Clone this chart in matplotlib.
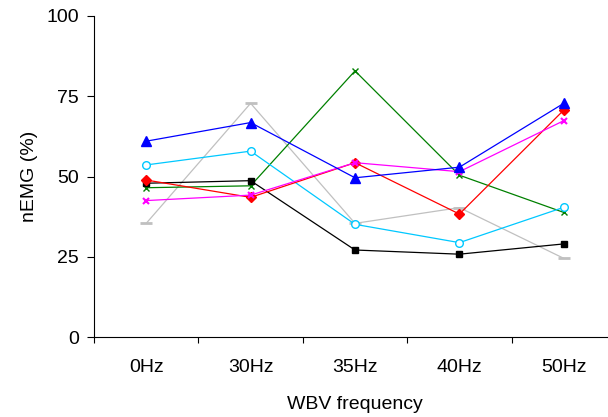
import matplotlib
matplotlib.use('Agg')
import matplotlib.pyplot as plt
import numpy as np

plt.rcParams['font.family'] = ['Liberation Sans', 'DejaVu Sans']

# data
freqs = ['0Hz', '30Hz', '35Hz', '40Hz', '50Hz']
gray_vals = [35.4, 72.8, 35.4, 40.3, 24.5]
green_vals = [46.5, 47.1, 82.9, 50.4, 38.8]
black_vals = [47.9, 48.7, 27.1, 25.8, 29.0]
cyan_vals = [53.6, 57.9, 35.1, 29.4, 40.4]
red_vals = [48.9, 43.5, 54.3, 38.3, 70.7]
magenta_vals = [42.5, 44.2, 54.3, 51.5, 67.4]
blue_vals = [61.0, 66.8, 49.6, 52.9, 72.8]
y_ticks = [0, 25, 50, 75, 100]

x = np.arange(len(freqs))

fig = plt.figure(figsize=(6.08, 4.17), dpi=100)
# axes runs off the right edge like in the reference
ax = fig.add_axes([94/608, 80/417, 522/608, 321/417])

lw = 0.9
ax.plot(x, gray_vals, color='#c0c0c0', lw=lw, marker='_', ms=8, mew=2)
ax.plot(x, green_vals, color='#008000', lw=lw, marker='x', ms=5, mew=1)
ax.plot(x, black_vals, color='black', lw=lw, marker='s', ms=5)
ax.plot(x, cyan_vals, color='#00c8ff', lw=lw, marker='o', ms=5.5,
        mfc='white', mew=1)
ax.plot(x, red_vals, color='#ff0000', lw=lw, marker='D', ms=5)
ax.plot(x, magenta_vals, color='#ff00ff', lw=lw, marker='x', ms=5, mew=1.5)
ax.plot(x, blue_vals, color='#0000ff', lw=lw, marker='^', ms=6.5)

ax.set_xlim(-0.5, 4.5)
ax.set_ylim(0, 100)
ax.set_yticks(y_ticks)
ax.set_xticks(x)
ax.set_xticklabels(freqs)
ax.set_xticks(np.arange(-0.5, 5, 1), minor=True)
ax.tick_params(axis='x', which='major', length=0, pad=16, labelsize=14)
ax.tick_params(axis='x', which='minor', length=4.5, width=0.8, direction='out')
ax.tick_params(axis='y', length=5, width=0.8, pad=6, labelsize=14)

for s in ['top', 'right']:
    ax.spines[s].set_visible(False)
for s in ['left', 'bottom']:
    ax.spines[s].set_linewidth(0.8)

ax.set_xlabel('WBV frequency', fontsize=14, labelpad=14)
ax.set_ylabel('nEMG (%)', fontsize=14, labelpad=6)

fig.savefig('out.png', dpi=100)
